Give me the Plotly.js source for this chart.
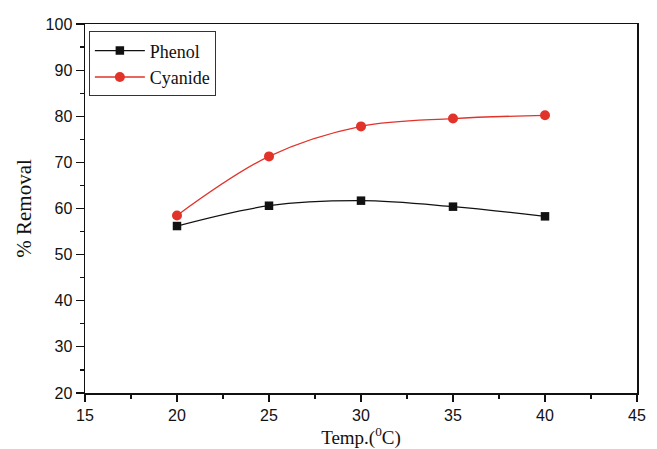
<!DOCTYPE html>
<html>
<head>
<meta charset="utf-8">
<script src="https://cdn.plot.ly/plotly-3.0.1.min.js"></script>
<style>html,body{margin:0;padding:0;background:#fff;}#chart{width:657px;height:449px;}</style>
</head>
<body>
<div id="chart"></div>
<script>
const temps = [20, 25, 30, 35, 40];
const phenol = [56.2, 60.6, 61.7, 60.4, 58.3];
const cyanide = [58.5, 71.3, 77.8, 79.5, 80.2];
const seriesNames = ['Phenol', 'Cyanide'];

const traces = [
  {x: temps, y: phenol, name: seriesNames[0], mode: 'lines+markers',
   line: {color: '#111111', width: 1.3, shape: 'spline', smoothing: 1},
   marker: {symbol: 'square', size: 8.5, color: '#111111'}},
  {x: temps, y: cyanide, name: seriesNames[1], mode: 'lines+markers',
   line: {color: '#e2332a', width: 1.3, shape: 'spline', smoothing: 1},
   marker: {symbol: 'circle', size: 10, color: '#e2332a'}}
];

const layout = {
  width: 657, height: 449,
  margin: {l: 85, r: 20, t: 24, b: 56},
  paper_bgcolor: '#fff', plot_bgcolor: '#fff',
  showlegend: true,
  legend: {x: 0.007, y: 0.98, xanchor: 'left', yanchor: 'top',
    bordercolor: '#333', borderwidth: 1, bgcolor: '#fff',
    font: {family: 'Liberation Serif, Times New Roman, serif', size: 18, color: '#111'},
    tracegroupgap: 0, itemwidth: 50},
  xaxis: {range: [15, 45], dtick: 5, tick0: 15, ticks: 'outside', ticklen: 7, tickwidth: 1.2,
    tickcolor: '#111', showline: true, linecolor: '#111', linewidth: 1.5, mirror: true,
    showgrid: false, zeroline: false,
    tickfont: {family: 'Liberation Sans, Arial, sans-serif', size: 16, color: '#111'},
    minor: {dtick: 2.5, ticks: 'outside', ticklen: 4, tickwidth: 1.2, tickcolor: '#111', showgrid: false},
    title: {text: 'Temp.(<sup>0</sup>C)', standoff: 8,
      font: {family: 'Liberation Serif, Times New Roman, serif', size: 19, color: '#111'}}},
  yaxis: {range: [20, 100], dtick: 10, tick0: 20, ticks: 'outside', ticklen: 8, tickwidth: 1.2,
    tickcolor: '#111', showline: true, linecolor: '#111', linewidth: 1.5, mirror: true,
    showgrid: false, zeroline: false,
    tickfont: {family: 'Liberation Sans, Arial, sans-serif', size: 16, color: '#111'},
    minor: {dtick: 5, ticks: 'outside', ticklen: 4, tickwidth: 1.2, tickcolor: '#111', showgrid: false},
    title: {text: '% Removal', standoff: 8,
      font: {family: 'Liberation Serif, Times New Roman, serif', size: 21, color: '#111'}}}
};

Plotly.newPlot('chart', traces, layout, {displayModeBar: false, staticPlot: true});
</script>
</body>
</html>
